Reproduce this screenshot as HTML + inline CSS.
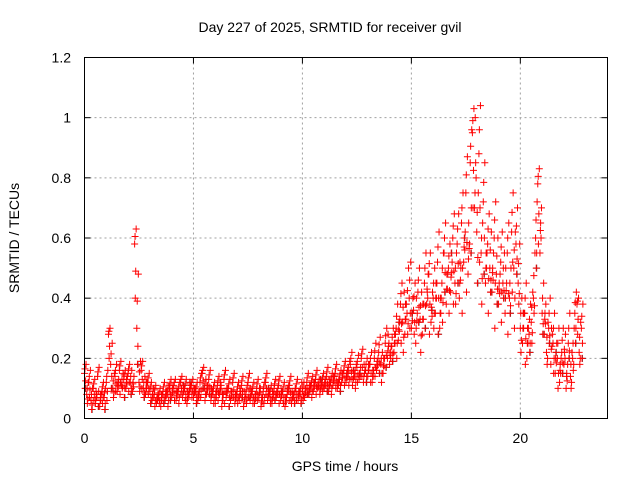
<!DOCTYPE html>
<html><head><meta charset="utf-8"><style>
body{margin:0;background:#fff}
svg{display:block;font-family:"Liberation Sans",sans-serif}
</style></head><body>
<svg id="chart" width="640" height="480" viewBox="0 0 640 480">
<text x="330" y="32" font-size="14" text-anchor="middle">Day 227 of 2025, SRMTID for receiver gvil</text>
<text x="19" y="238" font-size="14" text-anchor="middle" transform="rotate(-90 19 238)">SRMTID / TECUs</text>
<text x="345" y="471" font-size="14" text-anchor="middle">GPS time / hours</text>
<g id="grid"></g>
<g id="ticks"></g>
<g id="points"></g>
<rect x="84.5" y="57.5" width="523" height="361" fill="none" stroke="#000" stroke-width="1"/>
</svg>
<script>
const xTicks=[0,5,10,15,20];
const yTicks=[0,0.2,0.4,0.6,0.8,1,1.2];
const yTickLabels=["0","0.2","0.4","0.6","0.8","1","1.2"];
const tStart=0, tStep=0.1;
const seriesA=[.15,.08,.12,.06,.10,.05,.14,.04,.09,.07,
.12,.28,.18,.10,.14,.09,.16,.11,.13,.10,
.15,.12,.09,.58,.30,.12,.16,.10,.08,.12,
.09,.06,.08,.05,.07,.04,.09,.06,.08,.10,
.07,.11,.06,.09,.12,.07,.10,.05,.08,.11,
.07,.09,.06,.12,.15,.10,.08,.13,.06,.09,
.05,.11,.08,.04,.13,.07,.10,.06,.12,.05,
.09,.06,.11,.04,.08,.12,.06,.09,.05,.10,
.07,.04,.09,.12,.06,.08,.05,.10,.07,.11,
.06,.09,.04,.08,.11,.05,.07,.10,.06,.08,
.09,.07,.12,.08,.11,.09,.13,.10,.08,.12,
.10,.14,.09,.12,.11,.15,.10,.13,.12,.16,
.12,.15,.18,.11,.14,.17,.13,.20,.12,.16,
.14,.18,.12,.20,.16,.22,.18,.15,.25,.20,
.18,.24,.22,.30,.26,.38,.32,.28,.35,.40,
.30,.36,.25,.42,.33,.28,.45,.38,.48,.32,
.40,.35,.52,.30,.45,.55,.38,.50,.42,.60,
.45,.58,.40,.65,.52,.75,.48,.85,.95,.70,
.62,.88,.55,.72,.45,.58,.50,.42,.60,.48,
.38,.52,.45,.35,.55,.40,.62,.50,.58,.45,
.30,.25,.35,.20,.28,.32,.40,.60,.78,.55,
.35,.28,.22,.30,.18,.25,.15,.20,.12,.22,
.18,.10,.25,.14,.20,.35,.38,.22,.30];
const seriesB=[.10,.05,.07,.03,.06,.09,.04,.08,.05,.03,
.06,.20,.10,.07,.09,.12,.08,.10,.07,.13,
.09,.08,.12,.40,.18,.09,.10,.07,.12,.08,
.05,.08,.04,.07,.05,.08,.05,.09,.04,.06,
.10,.06,.09,.05,.08,.11,.06,.09,.12,.07,
.10,.05,.08,.07,.10,.06,.11,.08,.10,.05,
.09,.06,.12,.08,.05,.10,.04,.09,.07,.08,
.05,.10,.07,.09,.05,.07,.10,.05,.08,.06,
.10,.07,.05,.08,.10,.05,.09,.06,.09,.05,
.09,.05,.07,.10,.06,.09,.05,.06,.09,.05,
.06,.10,.08,.11,.07,.12,.08,.11,.13,.09,
.12,.09,.13,.08,.14,.10,.12,.09,.15,.11,
.15,.11,.13,.16,.10,.12,.15,.14,.18,.12,
.18,.12,.16,.14,.19,.15,.12,.20,.17,.28,
.22,.19,.28,.20,.32,.25,.22,.38,.28,.30,
.35,.28,.40,.32,.22,.38,.30,.42,.28,.36,
.30,.45,.28,.40,.32,.42,.48,.35,.55,.38,
.38,.45,.52,.35,.60,.42,.65,.55,.70,1.0,
.45,.52,.38,.48,.55,.35,.42,.50,.30,.38,
.45,.32,.40,.50,.28,.35,.42,.30,.48,.38,
.22,.35,.18,.30,.22,.25,.35,.50,.58,.65,
.28,.35,.18,.25,.30,.15,.22,.10,.18,.15,
.22,.15,.20,.10,.16,.25,.28,.18,.20];
const seriesC=[.18,.12,.16,.10,.13,.08,.17,.08,.12,.10,
.16,.30,.25,.15,.18,.13,.19,.15,.16,.14,
.18,.16,.14,.63,.48,.19,.19,.14,.12,.15,
.12,.10,.11,.08,.10,.08,.12,.09,.11,.13,
.10,.13,.09,.12,.14,.10,.13,.08,.11,.13,
.10,.12,.09,.15,.17,.13,.11,.16,.09,.12,
.09,.14,.11,.08,.16,.10,.13,.09,.15,.08,
.12,.09,.14,.07,.11,.15,.09,.12,.08,.13,
.10,.07,.12,.15,.09,.11,.08,.13,.10,.14,
.09,.12,.07,.11,.14,.08,.10,.13,.09,.12,
.12,.10,.15,.11,.14,.12,.16,.13,.11,.15,
.13,.17,.12,.15,.14,.18,.13,.16,.15,.19,
.16,.19,.22,.15,.18,.21,.17,.23,.16,.20,
.18,.22,.16,.25,.20,.27,.22,.20,.30,.25,
.24,.30,.28,.38,.33,.45,.42,.38,.50,.52,
.40,.45,.35,.50,.42,.38,.55,.48,.55,.42,
.50,.45,.62,.40,.55,.65,.48,.58,.52,.68,
.55,.68,.50,.75,.62,.87,.58,.96,1.03,.80,
.75,1.04,.65,.85,.55,.68,.62,.55,.72,.60,
.48,.62,.55,.45,.65,.50,.75,.62,.70,.58,
.40,.35,.45,.30,.38,.42,.55,.72,.83,.70,
.45,.38,.32,.40,.28,.35,.25,.30,.20,.30,
.28,.18,.35,.22,.30,.42,.40,.32,.38];
const X0=84.5,X1=607.5,Y0=418.5,Y1=57.5;
function xs(v){return X0+(v-0)/24*(X1-X0);}
function ys(v){return Y0-(v-0)/1.2*(Y0-Y1);}
const NS="http://www.w3.org/2000/svg";
const grid=document.getElementById('grid'),ticks=document.getElementById('ticks'),pts=document.getElementById('points');
function mk(tag,attrs,parent){const e=document.createElementNS(NS,tag);for(const k in attrs)e.setAttribute(k,attrs[k]);parent.appendChild(e);return e;}
xTicks.forEach(v=>{const x=xs(v);
 if(v>0){const g=mk('line',{x1:x,x2:x,y1:Y1,y2:Y0,stroke:'#a0a0a0','stroke-dasharray':'2,3'},grid);
 
 }
 mk('line',{x1:x,x2:x,y1:Y0,y2:Y0-6,stroke:'#000'},ticks);
 mk('line',{x1:x,x2:x,y1:Y1,y2:Y1+6,stroke:'#000'},ticks);
 const t=mk('text',{x:x,y:443,'font-size':14,'text-anchor':'middle'},ticks);t.textContent=v;
 
 
});
yTicks.forEach((v,i)=>{const y=ys(v);
 if(v>0&&v<1.2){const g=mk('line',{x1:X0,x2:X1,y1:y,y2:y,stroke:'#a0a0a0','stroke-dasharray':'2,3'},grid);
 
 }
 mk('line',{x1:X0,x2:X0+6,y1:y,y2:y,stroke:'#000'},ticks);
 mk('line',{x1:X1,x2:X1-6,y1:y,y2:y,stroke:'#000'},ticks);
 const t=mk('text',{x:71,y:y+5,'font-size':14,'text-anchor':'end'},ticks);t.textContent=yTickLabels[i];
 
 
});
function plus(t,v,col){const x=xs(t),y=ys(v);
 const p=mk('path',{d:`M${x-3.5},${y}H${x+3.5}M${x},${y-3.5}V${y+3.5}`,stroke:col,'stroke-width':1,fill:'none'},pts);
 
 
}
seriesB.forEach((v,i)=>{if(i%3==0)plus(tStart+i*tStep+0.05,v,'#404040');});
seriesA.forEach((v,i)=>plus(tStart+i*tStep,v,'#ff0000'));
seriesB.forEach((v,i)=>plus(tStart+i*tStep+0.03,v,'#ff0000'));
seriesC.forEach((v,i)=>plus(tStart+i*tStep+0.07,v,'#ff0000'));
seriesA.forEach((v,i)=>{const w=(v+seriesB[i])/2;plus(tStart+i*tStep+0.05,w,'#ff0000');});
seriesC.forEach((v,i)=>{const w=(v+seriesA[i])/2;plus(tStart+i*tStep+0.02,w,'#ff0000');});
</script>
</body></html>
